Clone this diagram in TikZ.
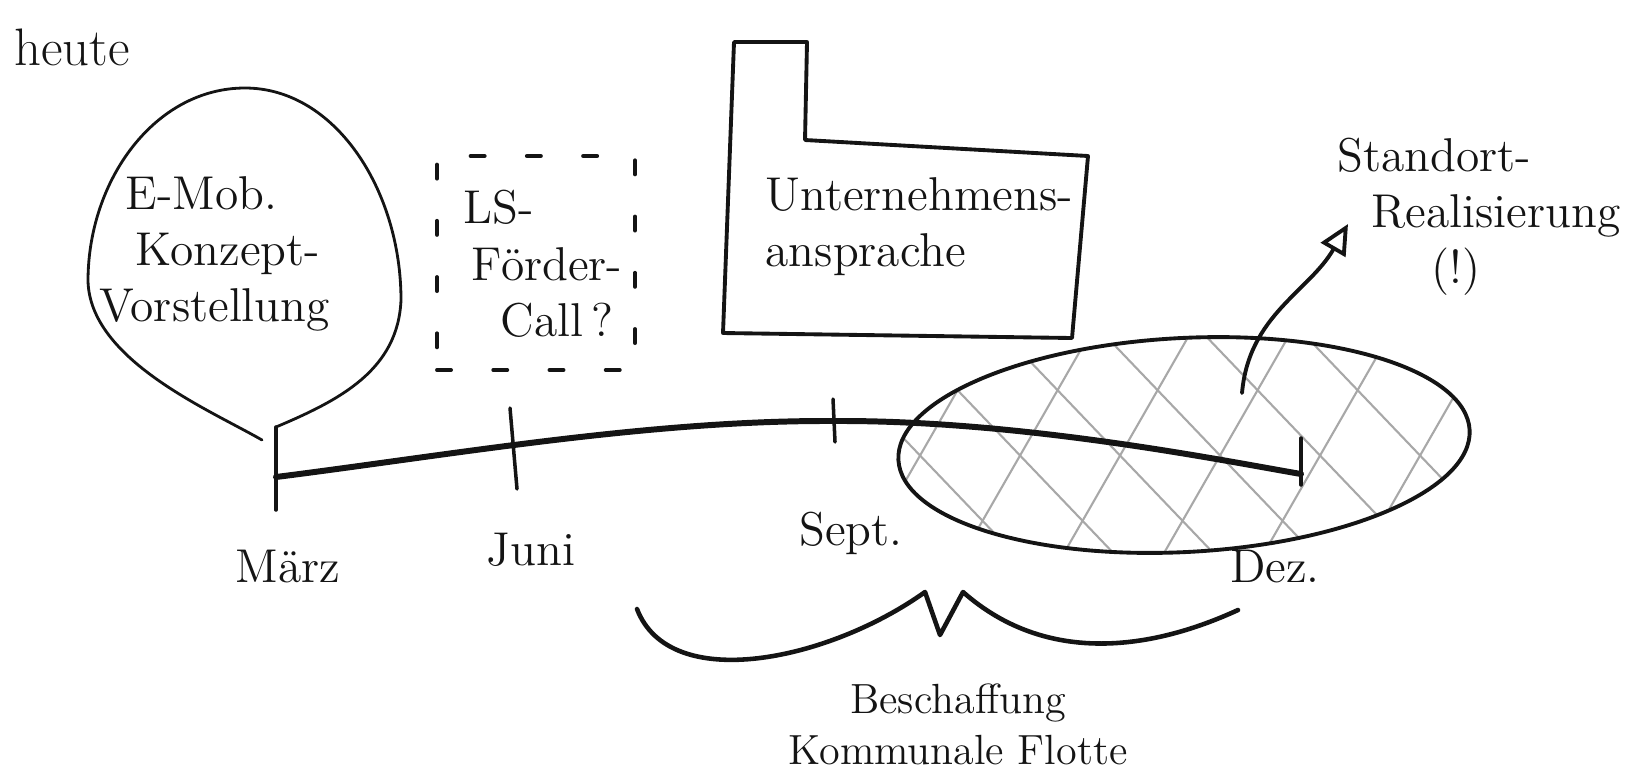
\documentclass[tikz,border=0pt]{standalone}
\usepackage{fontspec}
\usepackage{tikz}
\usetikzlibrary{arrows.meta,positioning,shapes.geometric}
\definecolor{inkc}{HTML}{141414}
\definecolor{hatchc}{HTML}{A8A8A8}

\begin{document}
\begin{tikzpicture}[line cap=round,line join=round,
  hand/.style={font=\fontsize{13.5}{16}\selectfont,inner sep=0pt,text=inkc},
  ink/.style={draw=inkc,line width=1.1pt},
  thinink/.style={draw=inkc,line width=0.8pt},
  tick/.style={draw=inkc,line width=1pt},
]
\useasboundingbox (0,0) rectangle (16.32,-7.76);

\node[hand,font=\fontsize{15}{18}\selectfont] (heute) at (0.72,-0.47) {heute};

% speech balloon
\draw[thinink] (2.76,-4.27) .. controls (3.4,-4.0) and (3.98,-3.7) .. (4.01,-3.0)
  .. controls (4.01,-1.9) and (3.35,-0.88) .. (2.45,-0.88)
  .. controls (1.55,-0.88) and (0.88,-1.8) .. (0.88,-2.81)
  .. controls (0.9,-3.6) and (2.1,-4.1) .. (2.62,-4.40);
\node[hand,align=left,anchor=west] (emob) at (0.99,-2.54)
  {\hspace{0.26cm}E-Mob.\\\hspace{0.36cm}Konzept-\\Vorstellung};

% dotted box
\node[draw=inkc,line width=1.1pt,dash pattern=on 4pt off 12pt,
      minimum width=1.98cm,minimum height=2.14cm] (lsbox) at (5.36,-2.63) {};
\node[hand,align=left,anchor=west] (lstext) at (4.63,-2.64)
  {LS-\\\hspace{0.08cm}Förder-\\\hspace{0.37cm}Call\,?};

% factory
\draw[ink] (7.34,-0.42) -- (8.07,-0.42) -- (8.05,-1.40) -- (10.88,-1.56)
  -- (10.72,-3.38) -- (7.23,-3.33) -- cycle;
\node[hand,align=left,anchor=west] (unt) at (7.65,-2.27)
  {Unternehmens-\\ansprache};

% hatched area
\begin{scope}
  \clip[rotate around={3:(11.84,-4.45)}] (11.84,-4.45) ellipse (2.86 and 1.07);
  \foreach \x in {7.6,8.6,...,14.6}
    \draw[hatchc,line width=0.6pt] (\x,-5.6) -- ++(1.35,2.35);
  \foreach \x in {8.0,9.0,...,15.0}
    \draw[hatchc,line width=0.6pt] (\x,-3.3) -- ++(2.2,-2.3);
\end{scope}
\node[ellipse,ink,minimum width=5.72cm,minimum height=2.14cm,rotate=3]
  (blob) at (11.84,-4.45) {};

% time line
\coordinate (maerz) at (2.76,-4.77);
\coordinate (juni) at (5.13,-4.45);
\coordinate (sept) at (8.34,-4.21);
\coordinate (dez) at (13.01,-4.74);
\draw[inkc,line width=1.7pt] (maerz) .. controls (4.5,-4.55) and (6.5,-4.2) .. (sept)
  .. controls (10.2,-4.2) and (12.2,-4.6) .. (dez);
\draw[tick] (maerz) ++(0,0.50) -- ++(0,-0.83);
\draw[tick] (juni) ++(-0.03,0.37) -- ++(0.07,-0.81);
\draw[tick] (sept) ++(-0.01,0.22) -- ++(0.02,-0.43);
\draw[tick] (dez) ++(0,0.36) -- ++(0,-0.47);

\node[hand] (lmaerz) at (2.88,-5.67) {März};
\node[hand] (ljuni) at (5.31,-5.50) {Juni};
\node[hand] (lsept) at (8.51,-5.33) {Sept.};
\node[hand] (ldez) at (12.75,-5.67) {Dez.};

% arrow out of the hatched area
\node[hand,align=left,anchor=west] (standort) at (13.37,-2.17)
  {Standort-\\\hspace{0.34cm}Realisierung\\\hspace{0.94cm}(!)};
\coordinate (rbase) at (12.42,-3.93);
\coordinate (rtip) at (13.48,-2.24);
\draw[ink,-{Triangle[open,length=3mm,width=2.8mm]}] (rbase) to[out=85,in=-120] (rtip);

% brace
\draw[inkc,line width=1.3pt] (6.37,-6.09) .. controls (6.7,-6.95) and (8.3,-6.6) .. (9.25,-5.92)
  -- (9.40,-6.35) -- (9.63,-5.92) .. controls (10.4,-6.6) and (11.4,-6.55) .. (12.38,-6.10);
\node[hand,font=\fontsize{12}{14.5}\selectfont,align=center] (besch) at (9.58,-7.24)
  {Beschaffung\\Kommunale Flotte};
\end{tikzpicture}
\end{document}
